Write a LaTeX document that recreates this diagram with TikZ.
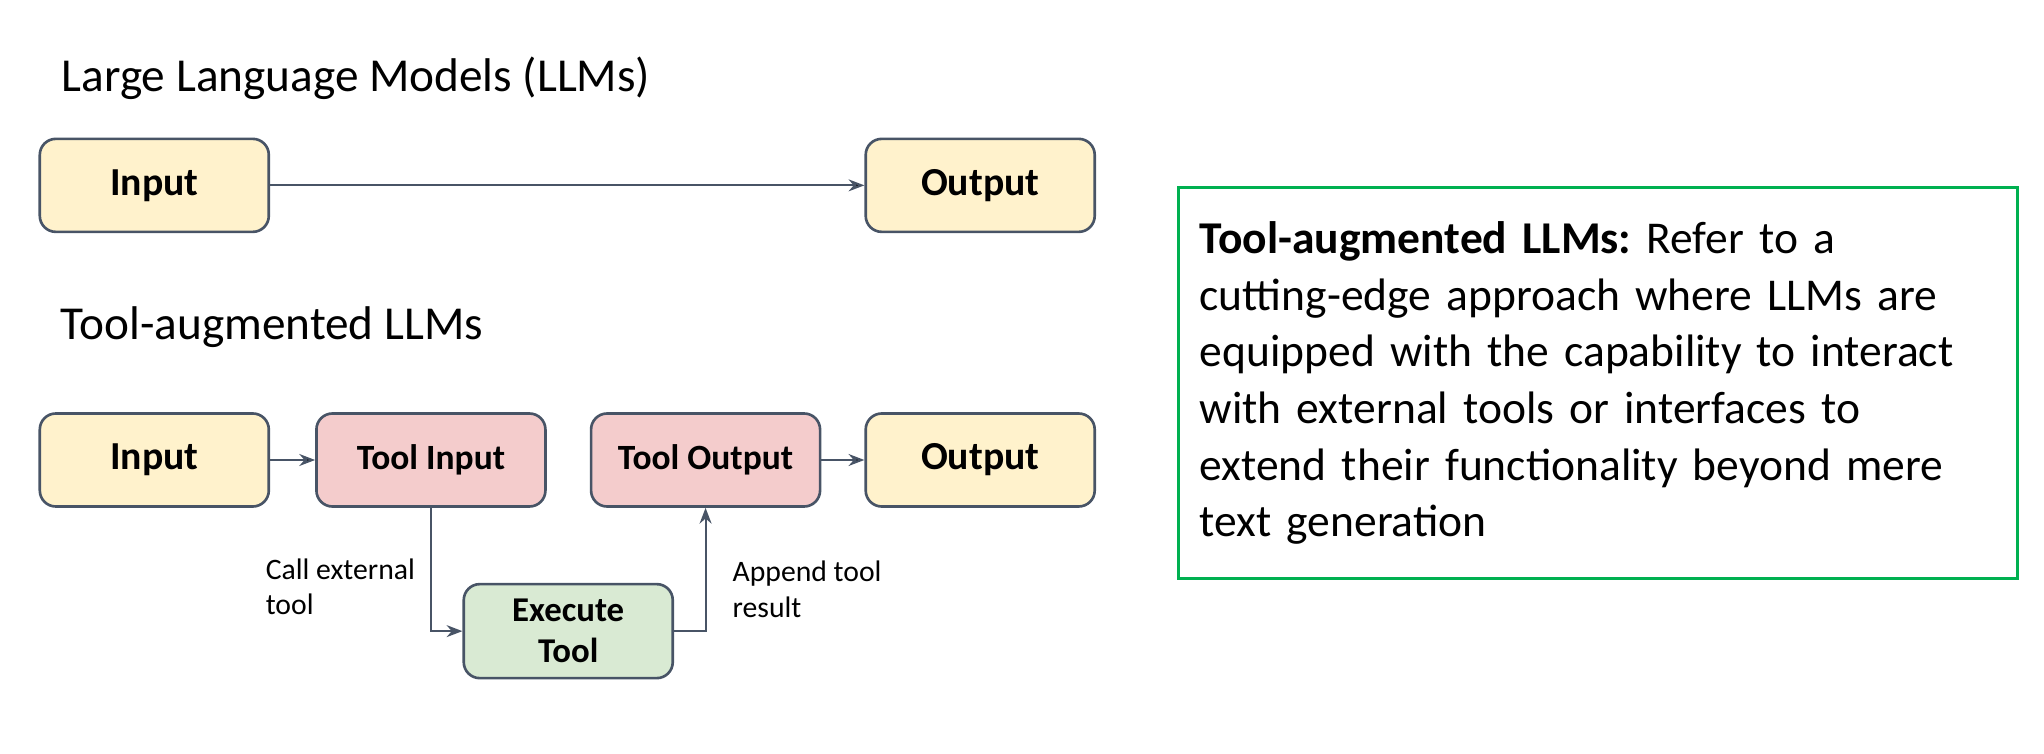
\documentclass[tikz,border=0pt]{standalone}
\usepackage{fontspec}
\setmainfont{Carlito}
\usepackage{tikz}
\usetikzlibrary{arrows.meta,calc,positioning}
\frenchspacing

\definecolor{edgegray}{RGB}{72,84,102}
\definecolor{ioyellow}{HTML}{FFF2CC}
\definecolor{toolpink}{HTML}{F4CCCC}
\definecolor{execgreen}{HTML}{D9EAD3}
\definecolor{framegreen}{HTML}{00B050}

\begin{document}
\begin{tikzpicture}[>={Stealth[length=4.5pt,width=3.4pt]},node distance=0.43cm,align=center,
		box/.style={draw=edgegray,line width=0.75pt,rounded corners=0.16cm,minimum width=2.29cm,minimum height=0.93cm,inner sep=0pt},
		io/.style={box,fill=ioyellow,font=\fontsize{11.3}{13}\selectfont\bfseries},
		tool/.style={box,fill=toolpink,font=\fontsize{10.1}{11.7}\selectfont\bfseries},
		exec/.style={box,fill=execgreen,minimum width=2.09cm,minimum height=0.94cm,font=\fontsize{9.9}{11.7}\selectfont\bfseries},
		title/.style={anchor=base west,inner sep=0pt,font=\fontsize{13.45}{16}\selectfont},
		lbl/.style={align=left,font=\fontsize{8.45}{10.2}\selectfont},
		conn/.style={draw=edgegray,line width=0.6pt,->}]
	\useasboundingbox (0,0) rectangle (20.44,-7.54);
	% plain LLM
	\node[title] (t_1) at (0.61,-0.92) {Large Language Models (LLMs)};
	\node[io] (in_2) at (1.543,-4.60) {Input};
	\node[io] (in_1) [above=1.79cm of in_2] {Input};
	% tool-augmented LLM
	\node[title] (t_2) at (0.60,-3.40) {Tool-augmented LLMs};
	\node[tool] (tin_2) [right=0.45cm of in_2] {Tool Input};
	\node[tool] (tout_2) [right=of tin_2] {Tool Output};
	\node[io] (out_2) [right=of tout_2] {Output};
	\node[io] (out_1) [above=1.79cm of out_2] {Output};
	\coordinate (mid_2) at ($(tin_2.south east)!0.5!(tout_2.south west)$);
	\node[exec] (exec_2) [below=0.75cm of mid_2] {Execute\\Tool};
	\path[conn]
		(in_1) edge (out_1)
		(in_2) edge (tin_2)
		(tout_2) edge (out_2);
	\draw[conn] (tin_2.south) |- node[lbl,pos=0.32,anchor=east,inner sep=0.15cm] {Call external\\tool} (exec_2.west);
	\draw[conn] (exec_2.east) -| node[lbl,pos=0.67,anchor=west,inner sep=0.26cm] {Append tool\\result} (tout_2.south);
	% definition
	\node[draw=framegreen,line width=0.95pt,anchor=north west,minimum width=8.39cm,minimum height=3.91cm,
		text width=7.97cm,inner sep=0.21cm,align=left,font=\fontsize{12.95}{16.1}\selectfont] (def) at (11.77,-1.86)
		{\textbf{Tool-augmented LLMs:} Refer to a\\
		cutting-edge approach where LLMs are\\
		equipped with the capability to interact\\
		with external tools or interfaces to\\
		extend their functionality beyond mere\\
		text generation};
\end{tikzpicture}
\end{document}
